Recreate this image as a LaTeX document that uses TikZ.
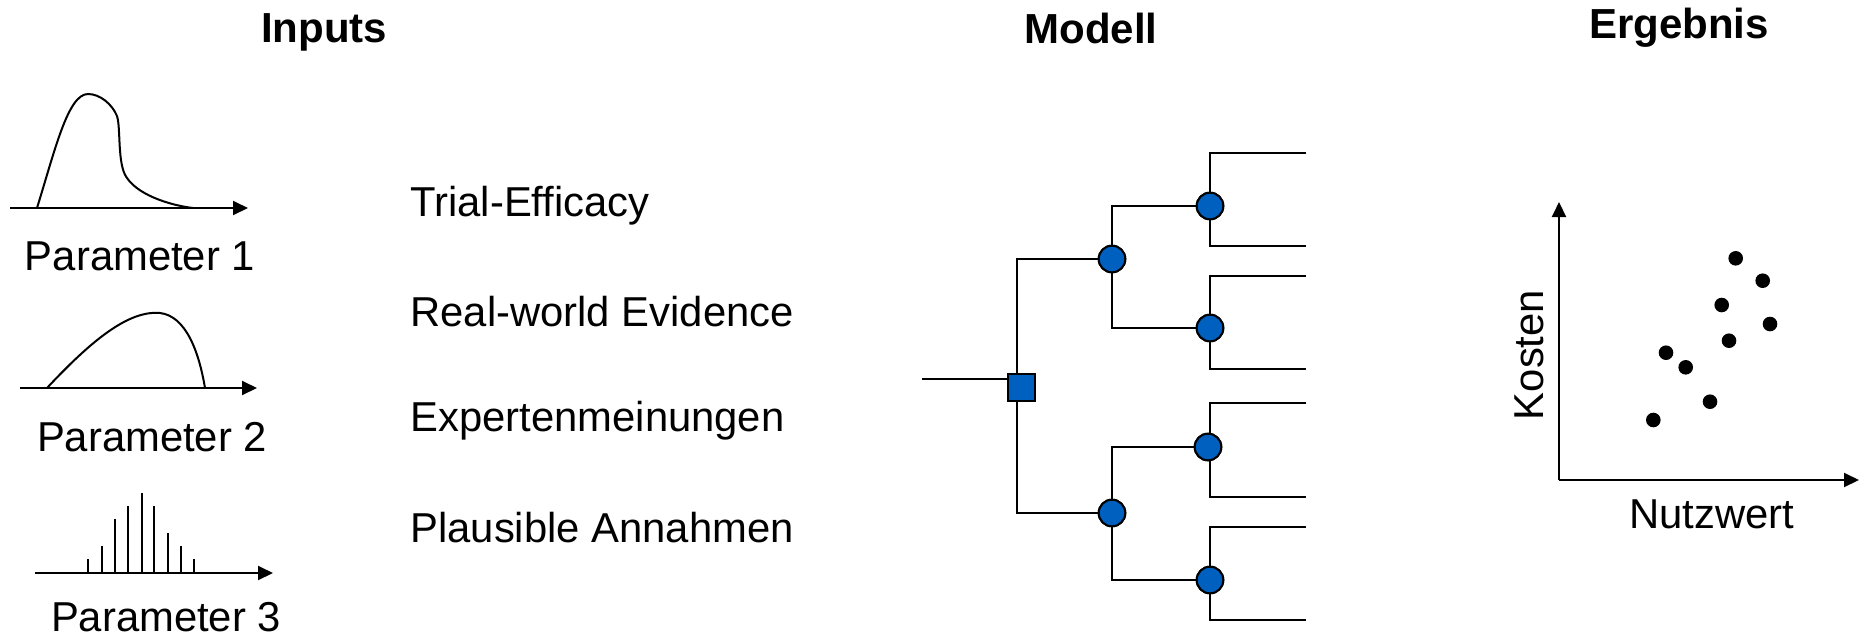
\documentclass[tikz,border=0pt]{standalone}
\usepackage{fontspec}
\setmainfont{Liberation Sans}[Ligatures=CommonOff]
\usetikzlibrary{arrows.meta}
\definecolor{nodeblue}{RGB}{0,96,192}
\tikzset{
  txt/.style={inner sep=0pt, font=\fontsize{20.9}{24}\selectfont},
  hdr/.style={inner sep=0pt, font=\fontsize{21}{24}\selectfont\bfseries},
  axis/.style={line width=1pt, -{Triangle[length=7.5pt,width=7pt]}},
  curve/.style={line width=1pt},
  spike/.style={line width=1pt},
  tline/.style={line width=1pt},
  chance/.style={circle, draw=black, line width=1pt, fill=nodeblue, minimum size=13.3pt, inner sep=0pt},
  decision/.style={rectangle, draw=black, line width=1pt, fill=nodeblue, minimum size=13.5pt, inner sep=0pt},
  dot/.style={circle, fill=black, minimum size=7.3pt, inner sep=0pt}
}
\begin{document}
\begin{tikzpicture}[x=0.5pt,y=-0.5pt]
\useasboundingbox (0,0) rectangle (1859,638);

% headers
\node[hdr, anchor=base] (hInputs) at (324,42) {Inputs};
\node[hdr, anchor=base] (hModell) at (1091,43) {Modell};
\node[hdr, anchor=base] (hErg) at (1679,38) {Ergebnis};

% parameter 1
\coordinate (a1s) at (10,208);
\coordinate (a1e) at (248,208);
\draw[axis] (a1s) -- (a1e);
\draw[curve] (37,208) .. controls (55,150) and (68,94) .. (88,94)
  .. controls (100,94) and (112,104) .. (117,116)
  .. controls (121,128) and (117,165) .. (127,178)
  .. controls (140,197) and (175,206) .. (193,208);
\node[txt, anchor=base] (p1) at (140,270) {Parameter 1};

% parameter 2
\coordinate (a2s) at (20,388);
\coordinate (a2e) at (257,388);
\draw[axis] (a2s) -- (a2e);
\draw[curve] (47,388) .. controls (90,342) and (128,310) .. (160,313)
  .. controls (186,316) and (199,352) .. (205,388);
\node[txt, anchor=base] (p2) at (152,451) {Parameter 2};

% parameter 3
\coordinate (a3s) at (35,573);
\coordinate (a3e) at (273,573);
\foreach \x/\y in {88.3/559.3, 101.7/546, 115/519.3, 128.3/506, 141.7/492.7, 154.3/506, 167.7/532.7, 181/546, 194.3/559.3}
  \draw[spike] (\x,573) -- (\x,\y);
\draw[axis] (a3s) -- (a3e);
\node[txt, anchor=base] (p3) at (166,631) {Parameter 3};

% sources
\node[txt, anchor=base west] (s1) at (410,216) {Trial-Efficacy};
\node[txt, anchor=base west] (s2) at (410,326) {Real-world Evidence};
\node[txt, anchor=base west] (s3) at (410,431) {Expertenmeinungen};
\node[txt, anchor=base west] (s4) at (410,542) {Plausible Annahmen};

% decision tree
\coordinate (r0) at (922,379);
\node[decision] (sq) at (1021.5,387) {};
\node[chance] (A1) at (1112,259) {};
\node[chance] (A2) at (1112,513) {};
\node[chance] (B1) at (1210,206) {};
\node[chance] (B2) at (1210,328) {};
\node[chance] (B3) at (1208,447) {};
\node[chance] (B4) at (1210,580) {};
\coordinate (L1) at (1306,153);
\coordinate (L2) at (1306,246);
\coordinate (L3) at (1306,276);
\coordinate (L4) at (1306,369);
\coordinate (L5) at (1306,403);
\coordinate (L6) at (1306,497);
\coordinate (L7) at (1306,527);
\coordinate (L8) at (1306,620);
\coordinate (sqv) at ([xshift=-2.25pt]sq.center);

\draw[tline] (r0) -- (r0 -| sq.west);
\draw[tline] (sqv) |- (A1);
\draw[tline] (sqv) |- (A2);
\draw[tline] (A1) |- (B1);
\draw[tline] (A1) |- (B2);
\draw[tline] (A2) |- (B3);
\draw[tline] (A2) |- (B4);
\draw[tline] (L1) -| (B1) |- (L2);
\draw[tline] (L3) -| (B2) |- (L4);
\draw[tline] (L5) -| ([xshift=1pt]B3.center) |- (L6);
\draw[tline] (L7) -| (B4) |- (L8);
% redraw nodes on top
\node[decision] at (sq) {};
\foreach \n in {A1,A2,B1,B2,B3,B4} \node[chance] at (\n) {};

% scatter
\coordinate (O) at (1559,480);
\coordinate (Yt) at (1559,202);
\coordinate (Xt) at (1859,480);
\draw[axis] (O) -- (Yt);
\draw[axis] (O) -- (Xt);
\foreach \x/\y [count=\i] in {1735.7/258.3, 1762.7/280.7, 1721.7/305, 1770/324, 1729/340.7, 1666/352.7, 1685.7/367.3, 1710/401.7, 1653.3/420}
  \node[dot] (d\i) at (\x,\y) {};
\node[txt, anchor=base] (xl) at (1712,528) {Nutzwert};
\node[txt, anchor=base, rotate=90] (yl) at (1543,355) {Kosten};
\end{tikzpicture}
\end{document}
